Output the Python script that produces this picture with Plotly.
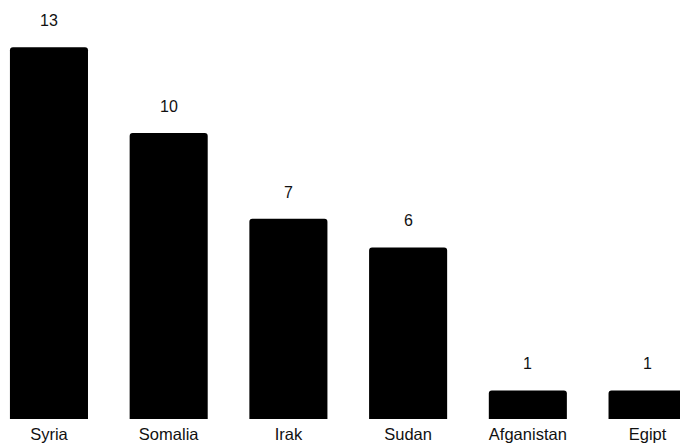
import plotly.graph_objects as go

countries = ["Syria", "Somalia", "Irak", "Sudan", "Afganistan", "Egipt"]
counts = [13, 10, 7, 6, 1, 1]

FONT = "Liberation Sans, Arial, sans-serif"

fig = go.Figure(go.Bar(
    x=countries, y=counts,
    marker=dict(color="#000000", cornerradius=3, line=dict(width=0)),
    width=0.652,
    hoverinfo="x+y",
))

for c, v in zip(countries, counts):
    fig.add_annotation(x=c, y=v, text=str(v), showarrow=False,
                       yanchor="bottom", yshift=16,
                       font=dict(family=FONT, size=16, color="#111111"))

fig.update_layout(
    width=680, height=445,
    margin=dict(l=0, r=0, t=0, b=26, autoexpand=False),
    paper_bgcolor="white", plot_bgcolor="white",
    showlegend=False,
    font=dict(family=FONT, size=16, color="#111111"),
    xaxis=dict(range=[-0.409, 5.271], showgrid=False, zeroline=False,
               showline=False, ticks="", ticklabelstandoff=3, automargin=False,
               tickfont=dict(family=FONT, size=16.5, color="#111111")),
    yaxis=dict(range=[0, 14.65], visible=False, showgrid=False, zeroline=False,
               automargin=False),
)

fig.write_html("out.html", config={"displayModeBar": False},
               post_script="document.body.style.margin='0';document.body.style.overflow='hidden';")
